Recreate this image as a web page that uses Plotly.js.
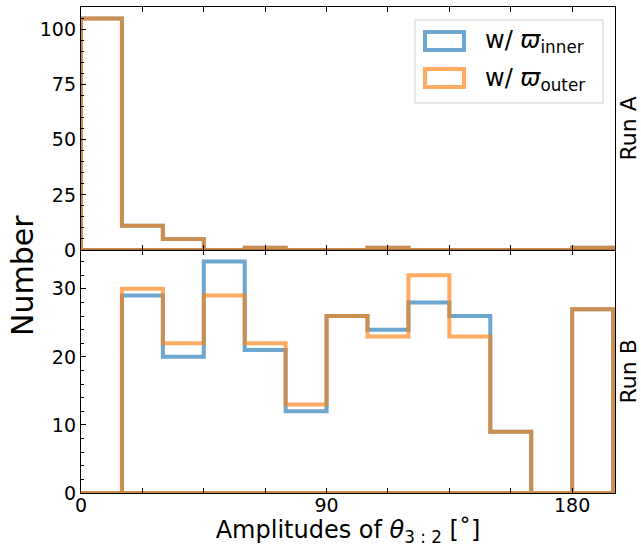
<!DOCTYPE html>
<html>
<head>
<meta charset="utf-8">
<script src="https://cdn.plot.ly/plotly-3.0.1.min.js"></script>
<style>
  html, body { margin: 0; padding: 0; background: #ffffff; }
  #chart { width: 641px; height: 547px; }
</style>
</head>
<body>
<div id="chart"></div>
<script>
// ---- data ----
const binEdges = [0, 15, 30, 45, 60, 75, 90, 105, 120, 135, 150, 165, 180, 195];
const runA_inner = [105, 11, 5, 0, 1, 0, 0, 1, 0, 0, 0, 0, 1];
const runA_outer = [105, 11, 5, 0, 1, 0, 0, 1, 0, 0, 0, 0, 1];
const runB_inner = [0, 29, 20, 34, 21, 12, 26, 24, 28, 26, 9, 0, 27];
const runB_outer = [0, 30, 22, 29, 22, 13, 26, 23, 32, 23, 9, 0, 27];
const seriesNames = ["w/ <i>ϖ</i><sub>inner</sub>", "w/ <i>ϖ</i><sub>outer</sub>"];
const panelLabels = ["Run A", "Run B"];
const xTickVals = [0, 90, 180];
const xTickText = ["0", "90", "180"];
const yTicksA = [0, 25, 50, 75, 100];
const yTicksB = [0, 10, 20, 30];

// ---- styles ----
const blue = "rgba(31,119,180,0.65)";
const orange = "rgba(255,127,14,0.65)";
const FONT = "DejaVu Sans, sans-serif";

// matplotlib-like closed step outline built from bin edges and counts
function stepOutline(edges, counts) {
  const xs = [edges[0]], ys = [0];
  for (let i = 0; i < counts.length; i++) {
    xs.push(edges[i], edges[i + 1]);
    ys.push(counts[i], counts[i]);
  }
  xs.push(edges[edges.length - 1], edges[0]);
  ys.push(0, 0);
  return { x: xs, y: ys };
}

function stepTrace(counts, color, xa, ya, name) {
  const p = stepOutline(binEdges, counts);
  return {
    type: "scatter", mode: "lines", x: p.x, y: p.y,
    xaxis: xa, yaxis: ya, name: name, showlegend: false,
    line: { color: color, width: 4, shape: "linear" },
    hoverinfo: "skip"
  };
}

const traces = [
  stepTrace(runA_inner, blue, "x2", "y2", seriesNames[0]),
  stepTrace(runA_outer, orange, "x2", "y2", seriesNames[1]),
  stepTrace(runB_inner, blue, "x", "y", seriesNames[0]),
  stepTrace(runB_outer, orange, "x", "y", seriesNames[1])
];

// plot-area geometry (px) for converting legend placement to paper units
const L = 81, R = 615, T = 7, B = 493;
const W = 641, H = 547;
const px = v => (v - L) / (R - L);
const py = v => (B - v) / (B - T);

const xCommon = {
  range: [0, 195.7], tickmode: "array", tickvals: xTickVals, ticktext: xTickText,
  ticks: "inside", ticklen: 5, tickwidth: 1, tickcolor: "#000",
  minor: { tick0: 0, dtick: 22.5, ticks: "inside", ticklen: 5, tickwidth: 1, tickcolor: "#000" },
  showline: true, linecolor: "#000", linewidth: 1.2, mirror: "allticks",
  showgrid: false, zeroline: false,
  tickfont: { family: FONT, size: 19, color: "#000" }
};
const yCommon = {
  ticks: "inside", ticklen: 5, tickwidth: 1, tickcolor: "#000",
  showline: true, linecolor: "#000", linewidth: 1.2, mirror: true,
  showgrid: false, zeroline: false,
  tickfont: { family: FONT, size: 19, color: "#000" }
};

const layout = {
  width: W, height: H,
  margin: { l: L, r: W - R, t: T, b: H - B, pad: 0 },
  paper_bgcolor: "#fff", plot_bgcolor: "#fff",
  showlegend: false,
  font: { family: FONT, color: "#000" },
  xaxis: Object.assign({}, xCommon, {
    anchor: "y", domain: [0, 1], ticklabelstandoff: -5,
    title: { text: "Amplitudes of <i>θ</i><sub>3 : 2</sub> [˚]", font: { family: FONT, size: 24, color: "#000" }, standoff: 10 }
  }),
  xaxis2: Object.assign({}, xCommon, { anchor: "y2", matches: "x", showticklabels: false }),
  yaxis: Object.assign({}, yCommon, {
    anchor: "x", domain: [0, 0.5], range: [0, 35.7],
    tickmode: "array", tickvals: yTicksB,
    minor: { dtick: 2, ticks: "inside", ticklen: 3, tickcolor: "#000", tickwidth: 1 }
  }),
  yaxis2: Object.assign({}, yCommon, {
    anchor: "x2", domain: [0.5, 1], range: [0, 110.25],
    tickmode: "array", tickvals: yTicksA,
    minor: { dtick: 5, ticks: "inside", ticklen: 3, tickcolor: "#000", tickwidth: 1 }
  }),
  shapes: [
    // legend frame
    { type: "rect", xref: "paper", yref: "paper",
      x0: px(415), x1: px(603), y0: py(103), y1: py(20),
      line: { color: "#d0d0d0", width: 1 }, fillcolor: "rgba(255,255,255,0.8)", layer: "above" },
    // legend handles
    { type: "rect", xref: "paper", yref: "paper",
      x0: px(425), x1: px(464), y0: py(50), y1: py(32),
      line: { color: blue, width: 4 }, fillcolor: "rgba(0,0,0,0)", layer: "above" },
    { type: "rect", xref: "paper", yref: "paper",
      x0: px(425), x1: px(464), y0: py(87), y1: py(69),
      line: { color: orange, width: 4 }, fillcolor: "rgba(0,0,0,0)", layer: "above" }
  ],
  annotations: [
    { text: seriesNames[0], xref: "paper", yref: "paper", x: px(483), y: py(41),
      xanchor: "left", yanchor: "middle", showarrow: false,
      font: { family: FONT, size: 24, color: "#000" } },
    { text: seriesNames[1], xref: "paper", yref: "paper", x: px(483), y: py(79),
      xanchor: "left", yanchor: "middle", showarrow: false,
      font: { family: FONT, size: 24, color: "#000" } },
    { text: "Number", xref: "paper", yref: "paper", x: px(22), y: py(276),
      xanchor: "center", yanchor: "middle", textangle: -90, showarrow: false,
      font: { family: FONT, size: 30, color: "#000" } },
    { text: panelLabels[0], xref: "paper", yref: "paper", x: px(628), y: 0.75,
      xanchor: "center", yanchor: "middle", textangle: -90, showarrow: false,
      font: { family: FONT, size: 22, color: "#000" } },
    { text: panelLabels[1], xref: "paper", yref: "paper", x: px(628), y: 0.25,
      xanchor: "center", yanchor: "middle", textangle: -90, showarrow: false,
      font: { family: FONT, size: 22, color: "#000" } }
  ]
};

Plotly.newPlot("chart", traces, layout, { staticPlot: true, displayModeBar: false });
</script>
</body>
</html>
